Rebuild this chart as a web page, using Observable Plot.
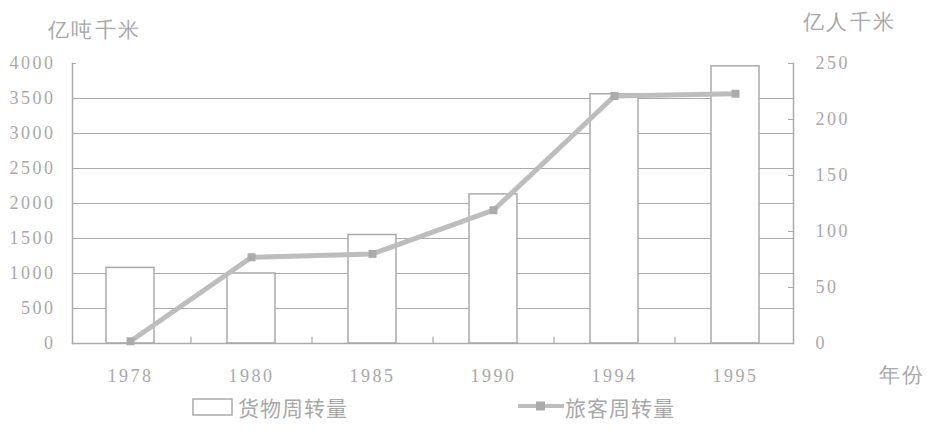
<!DOCTYPE html>
<html>
<head>
<meta charset="utf-8">
<script src="https://cdn.jsdelivr.net/npm/d3@7"></script>
<script src="https://cdn.jsdelivr.net/npm/@observablehq/plot@0.6"></script>
<style>
  html, body { margin: 0; padding: 0; background: #fff; }
  #wrap { position: relative; width: 927px; height: 436px; overflow: hidden; }
  #chart svg { display: block; }
  .num text { font-family: "Liberation Serif", serif; letter-spacing: 2.5px; }
  .leg { position: absolute; font-family: "Noto Sans CJK SC", sans-serif; font-size: 21px; color: #a8a8a8; line-height: 1; letter-spacing: 1px; }
</style>
</head>
<body>
<div id="wrap">
  <div id="chart"></div>
  <svg style="position:absolute;left:192px;top:398px" width="42" height="20">
    <rect x="1" y="1" width="39" height="16" fill="#fff" stroke="#aaa" stroke-width="1.5"></rect>
  </svg>
  <div class="leg" style="left:238px;top:397px">货物周转量</div>
  <svg style="position:absolute;left:516px;top:398px" width="50" height="18">
    <line x1="2" y1="8" x2="48" y2="8" stroke="#bdbdbd" stroke-width="4"></line>
    <rect x="20" y="3.5" width="9" height="9" fill="#ababab"></rect>
  </svg>
  <div class="leg" style="left:565px;top:397px">旅客周转量</div>
</div>
<script>
const years = ["1978", "1980", "1985", "1990", "1994", "1995"];
const freight = [1080, 1000, 1550, 2130, 3560, 3960];      // 亿吨千米 (left axis)
const passenger = [2, 77, 80, 119, 221, 223];               // 亿人千米 (right axis)
const leftTicks = [0, 500, 1000, 1500, 2000, 2500, 3000, 3500, 4000];
const gridTicks = [500, 1000, 1500, 2000, 2500, 3000, 3500];
const rightTicks = [0, 50, 100, 150, 200, 250];
const ratio = 4000 / 250;

const data = years.map((y, i) => ({year: y, freight: freight[i], passenger: passenger[i]}));
const lineCol = "#aaaaaa";
const textCol = "#a8a8a8";

const chart = Plot.plot({
  width: 927,
  height: 436,
  marginLeft: 72,
  marginRight: 134,
  marginTop: 63,
  marginBottom: 93,
  style: {background: "#fff", color: textCol, fontSize: "18px"},
  className: "num",
  x: {type: "band", domain: years, paddingInner: 0.603, paddingOuter: 0.28, label: null},
  y: {domain: [0, 4000], label: null},
  marks: [
    Plot.gridY(gridTicks, {stroke: lineCol, strokeOpacity: 1, strokeWidth: 1.2}),
    Plot.barY(data, {x: "year", y: "freight", fill: "#fff", stroke: lineCol, strokeWidth: 1.5}),
    Plot.frame({anchor: "left", stroke: lineCol, strokeWidth: 1.5}),
    Plot.frame({anchor: "right", stroke: lineCol, strokeWidth: 1.5}),
    Plot.frame({anchor: "bottom", stroke: lineCol, strokeWidth: 1.5}),
    // small ticks between categories on the baseline
    Plot.ruleX(years.slice(1), {x: d => d, y1: 0, y2: 90, dx: -60.5, stroke: lineCol, strokeWidth: 1.2}),
    // left axis labels + top tick
    Plot.axisY(leftTicks, {anchor: "left", tickSize: 0, tickPadding: 17, tickFormat: d => String(d), fontSize: 18, fill: textCol, label: null}),
    Plot.axisY([4000], {anchor: "left", tickSize: 4, dx: 4, tickFormat: () => "", stroke: lineCol, label: null}),
    // right axis labels + inward ticks
    Plot.axisY(rightTicks.map(v => v * ratio), {anchor: "right", tickSize: 0, tickPadding: 22, tickFormat: d => String(d / ratio), fontSize: 18, fill: textCol, label: null}),
    Plot.axisY(rightTicks.map(v => v * ratio), {anchor: "right", tickSize: 6, dx: -6, tickFormat: () => "", stroke: lineCol, label: null}),
    // x axis labels
    Plot.axisX({tickSize: 0, tickPadding: 26, fontSize: 18, fill: textCol, label: null}),
    // passenger line
    Plot.line(data, {x: "year", y: d => d.passenger * ratio, stroke: "#bdbdbd", strokeWidth: 5}),
    Plot.dot(data, {x: "year", y: d => d.passenger * ratio, symbol: "square", r: 4.5, fill: "#ababab"}),
    // axis titles
    Plot.text(["亿吨千米"], {frameAnchor: "top-left", dx: -25, dy: -41, textAnchor: "start", fontSize: 21, fill: textCol, fontFamily: "Noto Sans CJK SC"}),
    Plot.text(["亿人千米"], {frameAnchor: "top-right", dx: 9, dy: -49, textAnchor: "start", fontSize: 21, fill: textCol, fontFamily: "Noto Sans CJK SC"}),
    Plot.text(["年份"], {frameAnchor: "bottom-right", dx: 85, dy: 38, textAnchor: "start", fontSize: 21, fill: textCol, fontFamily: "Noto Sans CJK SC"})
  ]
});
document.getElementById("chart").appendChild(chart);
</script>
</body>
</html>
